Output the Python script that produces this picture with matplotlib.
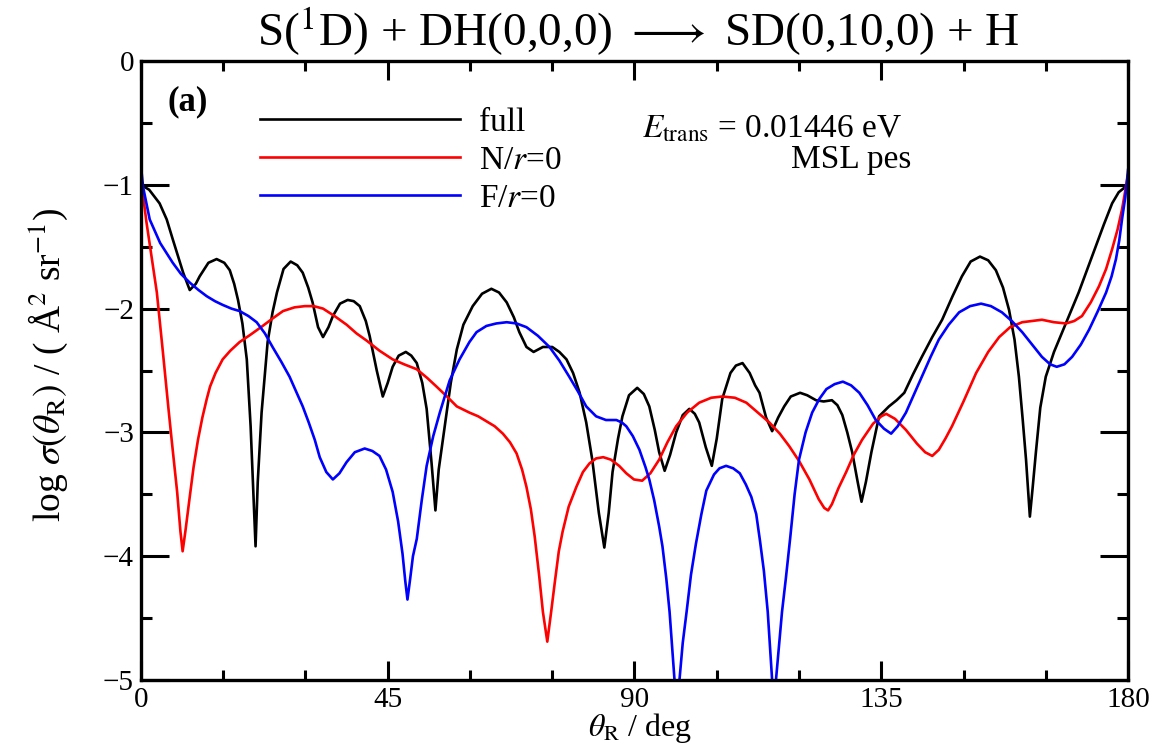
import matplotlib
matplotlib.use("Agg")
import matplotlib.pyplot as plt
from matplotlib.ticker import MultipleLocator

plt.rcParams['font.family'] = ['Liberation Serif', 'DejaVu Serif']
plt.rcParams['mathtext.fontset'] = 'stix'
plt.rcParams['axes.unicode_minus'] = True

# full
full_deg = [0, 1.5, 3.4, 4.7, 5.8, 7.7, 8.9, 10.0, 10.7, 12.3, 13.8, 15.2, 16.2, 17.0, 17.7, 18.5,
            19.3, 20.0, 20.5, 20.9, 21.3, 22.0, 23.1, 24.0, 24.8, 26.0, 27.3, 28.5, 29.5, 30.5,
            31.3, 32.3, 33.2, 34.2, 35.0, 36.3, 37.7, 38.8, 39.9, 41.0, 41.7, 43.0, 44.1, 45.0,
            45.9, 47.0, 48.3, 49.3, 50.3, 51.3, 52.1, 53.0, 53.7, 54.3, 55.4, 56.5, 57.6, 58.8,
            60.5, 62.2, 63.9, 65.3, 66.7, 68.0, 69.0, 70.3, 71.6, 73.3, 75.0, 76.3, 77.6, 78.8,
            80.0, 81.2, 82.3, 83.5, 84.5, 85.3, 86.0, 87.0, 87.8, 89.0, 90.5, 91.7, 92.7, 93.7,
            94.5, 95.5, 96.5, 97.6, 98.8, 100.0, 101.0, 101.8, 103.0, 104.1, 105.0, 106.0, 107.5,
            108.5, 109.7, 111.0, 112.0, 112.8, 114.0, 115.1, 116.2, 117.3, 118.5, 120.2, 121.5,
            123.1, 124.5, 126.0, 127.0, 127.9, 128.8, 129.7, 130.7, 131.4, 132.2, 133.2, 134.6,
            136.4, 137.8, 139.2, 140.8, 142.4, 144.3, 146.1, 148.0, 149.7, 151.3, 153.0, 154.5,
            155.9, 157.2, 158.3, 159.3, 160.1, 160.8, 161.4, 162.1, 162.6, 163.2, 164.0, 165.0,
            166.5, 168.0, 169.5, 171.0, 172.5, 174.1, 175.6, 177.1, 178.3, 180.0]
full_val = [-1.00, -1.04, -1.15, -1.28, -1.44, -1.71, -1.85, -1.80, -1.74, -1.63, -1.60, -1.63,
            -1.69, -1.80, -1.93, -2.12, -2.41, -2.95, -3.50, -3.92, -3.40, -2.84, -2.27, -2.03,
            -1.87, -1.68, -1.62, -1.65, -1.71, -1.83, -1.95, -2.15, -2.23, -2.15, -2.06, -1.96,
            -1.93, -1.94, -1.98, -2.10, -2.22, -2.50, -2.71, -2.60, -2.47, -2.38, -2.35, -2.38,
            -2.44, -2.60, -2.81, -3.25, -3.63, -3.30, -2.95, -2.60, -2.33, -2.13, -1.98, -1.88,
            -1.84, -1.87, -1.95, -2.07, -2.19, -2.31, -2.35, -2.31, -2.31, -2.35, -2.41, -2.52,
            -2.68, -2.92, -3.22, -3.65, -3.93, -3.65, -3.32, -3.05, -2.87, -2.70, -2.64, -2.69,
            -2.79, -2.98, -3.16, -3.31, -3.18, -3.00, -2.86, -2.81, -2.85, -2.92, -3.12, -3.27,
            -3.05, -2.73, -2.52, -2.46, -2.44, -2.52, -2.62, -2.68, -2.88, -2.99, -2.88, -2.79,
            -2.71, -2.68, -2.70, -2.74, -2.75, -2.74, -2.78, -2.86, -3.00, -3.16, -3.40, -3.56,
            -3.40, -3.16, -2.87, -2.79, -2.74, -2.68, -2.53, -2.39, -2.23, -2.09, -1.90, -1.74,
            -1.62, -1.58, -1.61, -1.69, -1.83, -2.01, -2.25, -2.55, -2.90, -3.22, -3.68, -3.45,
            -3.16, -2.80, -2.55, -2.35, -2.19, -2.03, -1.87, -1.69, -1.50, -1.32, -1.15, -1.06,
            -1.00]

# N/r=0
nr0_deg = [0, 1.0, 2.0, 2.9, 4.0, 5.0, 5.6, 6.6, 7.2, 7.6, 8.1, 8.9, 9.6, 10.4, 11.2, 12.0, 12.6,
           13.6, 14.9, 16.3, 18.0, 20.0, 22.2, 24.0, 25.9, 28.0, 29.9, 31.5, 33.2, 35.3, 37.5,
           39.3, 41.2, 43.5, 45.9, 48.0, 50.3, 52.2, 53.9, 55.8, 57.6, 59.9, 61.5, 63.0, 64.5,
           66.0, 67.3, 68.5, 69.5, 70.3, 71.1, 71.8, 72.6, 73.3, 74.1, 74.8, 75.5, 76.2, 76.9,
           78.0, 79.4, 80.6, 81.8, 83.0, 84.3, 85.7, 87.2, 88.5, 89.9, 91.4, 92.9, 94.5, 96.0,
           97.6, 99.6, 101.8, 104.0, 106.0, 108.3, 110.4, 112.5, 114.6, 116.5, 118.2, 120.0,
           121.9, 123.6, 124.6, 125.3, 126.0, 127.2, 128.6, 130.0, 131.5, 133.5, 135.0, 135.9,
           137.5, 139.5, 141.5, 143.0, 144.3, 145.5, 146.7, 147.9, 150.0, 152.3, 154.5, 156.5,
           158.5, 160.7, 162.5, 164.3, 166.5, 168.7, 170.2, 171.6, 173.2, 174.7, 176.0, 177.1,
           178.1, 178.9, 180.0]
nr0_val = [-0.95, -1.30, -1.60, -1.87, -2.35, -2.80, -3.06, -3.48, -3.80, -3.96, -3.80, -3.52,
           -3.28, -3.06, -2.88, -2.73, -2.63, -2.52, -2.41, -2.34, -2.27, -2.21, -2.14, -2.08,
           -2.02, -1.99, -1.98, -1.98, -2.00, -2.06, -2.13, -2.20, -2.26, -2.34, -2.41, -2.45,
           -2.49, -2.56, -2.63, -2.71, -2.79, -2.84, -2.87, -2.91, -2.95, -3.01, -3.08, -3.17,
           -3.30, -3.44, -3.62, -3.84, -4.15, -4.45, -4.69, -4.45, -4.20, -3.96, -3.80, -3.60,
           -3.44, -3.32, -3.25, -3.21, -3.20, -3.22, -3.27, -3.33, -3.38, -3.39, -3.33, -3.22,
           -3.08, -2.95, -2.84, -2.76, -2.72, -2.71, -2.72, -2.76, -2.84, -2.92, -3.01, -3.11,
           -3.23, -3.38, -3.54, -3.61, -3.63, -3.58, -3.45, -3.32, -3.18, -3.06, -2.93, -2.87,
           -2.85, -2.89, -2.98, -3.09, -3.16, -3.19, -3.14, -3.05, -2.95, -2.75, -2.52, -2.35,
           -2.23, -2.15, -2.11, -2.10, -2.09, -2.11, -2.12, -2.10, -2.06, -1.95, -1.82, -1.68,
           -1.52, -1.36, -1.20, -0.92]

# F/r=0
fr0_deg = [0, 0.4, 1.6, 3.5, 5.8, 7.3, 8.9, 10.5, 12.0, 13.5, 14.9, 16.5, 18.0, 19.6, 21.1, 22.6,
           24.0, 25.6, 27.1, 28.3, 29.5, 30.6, 31.7, 32.6, 33.8, 35.0, 36.2, 37.5, 39.0, 40.8,
           42.2, 43.5, 44.7, 45.9, 46.9, 47.7, 48.2, 48.6, 49.1, 49.6, 50.3, 51.2, 52.1, 53.3,
           54.5, 56.3, 58.1, 59.9, 61.2, 63.0, 64.8, 66.7, 68.5, 70.3, 72.4, 74.5, 76.3, 78.1,
           79.7, 81.2, 83.0, 84.8, 86.7, 87.7, 88.5, 89.7, 90.9, 92.0, 92.7, 93.6, 94.5, 95.1,
           95.8, 96.4, 96.9, 97.3, 97.8, 98.2, 98.8, 99.5, 100.3, 101.2, 102.2, 103.1, 104.5,
           105.5, 106.7, 108.0, 109.2, 110.3, 111.3, 112.2, 112.9, 113.6, 114.3, 114.8, 115.1,
           115.5, 115.8, 116.3, 116.9, 117.6, 118.4, 119.2, 120.0, 121.2, 122.4, 123.7, 125.0,
           126.5, 128.0, 129.5, 131.0, 132.5, 134.0, 135.5, 136.8, 138.0, 139.5, 141.0, 142.4,
           144.0, 145.5, 147.3, 149.2, 151.2, 153.2, 155.0, 157.0, 158.8, 160.7, 162.5, 164.3,
           165.8, 167.0, 168.4, 169.8, 171.4, 172.9, 174.5, 176.0, 177.0, 177.8, 178.4, 178.9,
           179.5, 180.0]
fr0_val = [-0.85, -1.02, -1.28, -1.47, -1.63, -1.72, -1.79, -1.85, -1.90, -1.94, -1.97, -2.00,
           -2.02, -2.06, -2.11, -2.20, -2.31, -2.43, -2.55, -2.67, -2.79, -2.92, -3.06, -3.20,
           -3.32, -3.38, -3.33, -3.24, -3.16, -3.13, -3.15, -3.19, -3.30, -3.48, -3.72, -3.98,
           -4.20, -4.35, -4.18, -4.00, -3.86, -3.55, -3.27, -3.03, -2.84, -2.58, -2.41, -2.27,
           -2.19, -2.14, -2.12, -2.11, -2.12, -2.15, -2.22, -2.31, -2.42, -2.55, -2.67, -2.79,
           -2.87, -2.90, -2.90, -2.92, -2.95, -3.03, -3.14, -3.28, -3.38, -3.55, -3.76, -3.92,
           -4.18, -4.45, -4.75, -5.00, -5.50, -5.00, -4.70, -4.45, -4.15, -3.90, -3.66, -3.47,
           -3.34, -3.29, -3.27, -3.29, -3.33, -3.42, -3.52, -3.66, -3.88, -4.12, -4.45, -4.80,
           -5.00, -5.50, -5.00, -4.75, -4.45, -4.18, -3.85, -3.50, -3.22, -3.00, -2.84, -2.73,
           -2.65, -2.61, -2.59, -2.62, -2.68, -2.78, -2.90, -2.97, -3.01, -2.95, -2.84, -2.69,
           -2.55, -2.39, -2.25, -2.13, -2.03, -1.98, -1.96, -1.98, -2.03, -2.10, -2.19, -2.29,
           -2.39, -2.45, -2.47, -2.45, -2.39, -2.29, -2.17, -2.02, -1.87, -1.74, -1.60, -1.45,
           -1.28, -1.10, -0.88]

fig = plt.figure(figsize=(11.61, 7.51), dpi=100)
ax = fig.add_axes([0.1214, 0.0945, 0.8502, 0.8243])

ax.plot(full_deg, full_val, color='black', lw=1.9, label='full')
ax.plot(nr0_deg, nr0_val, color='#ff0000', lw=1.9, label=r'N/$r$=0')
ax.plot(fr0_deg, fr0_val, color='#0000ff', lw=1.9, label=r'F/$r$=0')

ax.set_xlim(0, 180)
ax.set_ylim(-5, 0)
ax.xaxis.set_major_locator(MultipleLocator(45))
ax.xaxis.set_minor_locator(MultipleLocator(15))
ax.yaxis.set_major_locator(MultipleLocator(1))
ax.yaxis.set_minor_locator(MultipleLocator(0.5))

for s in ax.spines.values():
    s.set_linewidth(2.4)
ax.tick_params(axis='both', which='both', direction='in', top=True, right=True, width=2.2)
ax.tick_params(axis='x', which='major', length=14, pad=5, labelsize=21)
ax.tick_params(axis='x', which='minor', length=7)
ax.tick_params(axis='y', which='major', length=20, pad=5, labelsize=21)
ax.tick_params(axis='y', which='minor', length=8)

ax.set_xlabel(r'$\theta_\mathrm{R}$ / deg', fontsize=23)
ax.xaxis.set_label_coords(0.506, -0.05)
ax.set_ylabel(r'log $\sigma(\theta_\mathrm{R})$ / ( Å$^2$ sr$^{-1}$)', fontsize=27)
ax.yaxis.set_label_coords(-0.072, 0.51)
fig.suptitle(r'S($^1$D) + DH(0,0,0) $\longrightarrow$ SD(0,10,0) + H', fontsize=34, x=0.55, y=0.995)

ax.text(0.027, 0.96, '(a)', transform=ax.transAxes, fontsize=25, fontweight='bold', va='top')
ax.text(0.508, 0.89, r'$E_\mathrm{trans}$ = 0.01446 eV', transform=ax.transAxes, fontsize=24, va='center')
ax.text(0.72, 0.84, 'MSL pes', transform=ax.transAxes, fontsize=24, va='center', ha='center')

leg = ax.legend(loc='upper left', bbox_to_anchor=(0.104, 0.952), frameon=False, fontsize=24,
                handlelength=6.0, handletextpad=0.55, labelspacing=0.22, borderpad=0)

fig.savefig('out.png', dpi=100)
